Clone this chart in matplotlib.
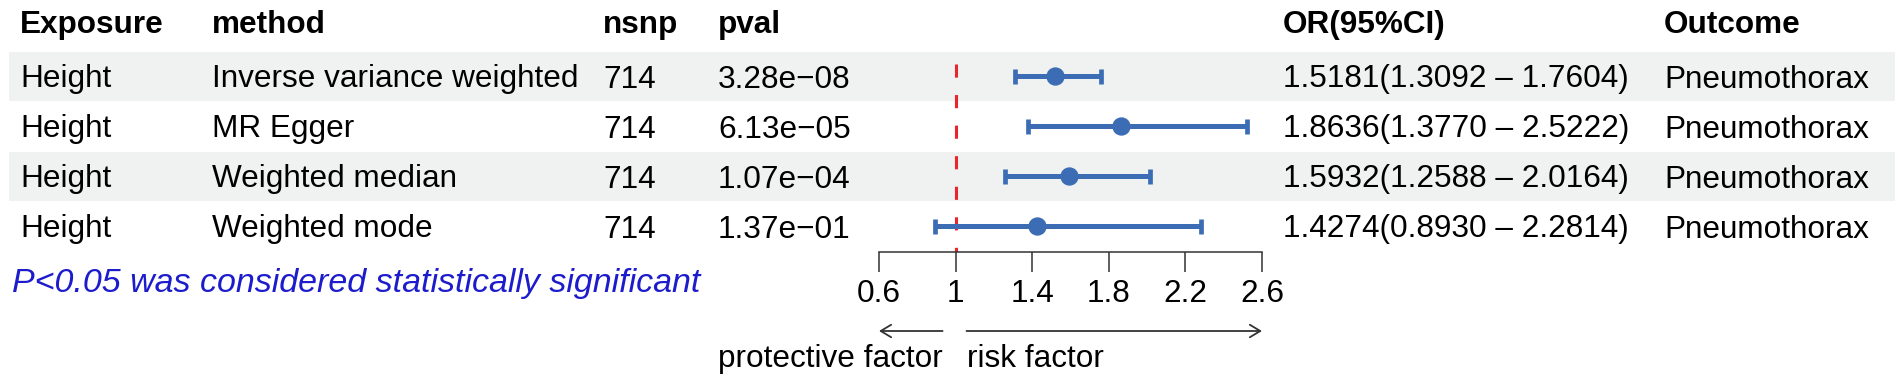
import matplotlib
matplotlib.use('Agg')
import matplotlib.pyplot as plt
from matplotlib.patches import Rectangle
from matplotlib.transforms import blended_transform_factory

plt.rcParams['font.family'] = ['Liberation Sans', 'DejaVu Sans']

# data
exposure = ['Height', 'Height', 'Height', 'Height']
methods = ['Inverse variance weighted', 'MR Egger', 'Weighted median', 'Weighted mode']
nsnp = [714, 714, 714, 714]
pvals = [3.28e-08, 6.13e-05, 1.07e-04, 1.37e-01]
or_vals = [1.5181, 1.8636, 1.5932, 1.4274]
ci_low = [1.3092, 1.3770, 1.2588, 0.8930]
ci_high = [1.7604, 2.5222, 2.0164, 2.2814]
outcome = ['Pneumothorax'] * 4
headers = ['Exposure', 'method', 'nsnp', 'pval', 'OR(95%CI)', 'Outcome']
xticks = [0.6, 1, 1.4, 1.8, 2.2, 2.6]
xticklabels = ['0.6', '1', '1.4', '1.8', '2.2', '2.6']

W, H = 1902, 386
fig = plt.figure(figsize=(W / 100, H / 100), dpi=100)
fig.patch.set_facecolor('white')

# page axes in pixel units for the table part
ax = fig.add_axes([0, 0, 1, 1])
ax.set_xlim(0, W)
ax.set_ylim(H, 0)
ax.axis('off')

fs = 22.7
col_x = [20, 212, 603, 718, 1283, 1664]
row_y0, row_h = 76, 50
band = '#eff2f1'

for i, h in enumerate(headers):
    ax.text(col_x[i], 33, h, fontsize=fs, fontweight='bold', va='baseline', ha='left')

for i in range(len(methods)):
    yc = row_y0 + row_h * i
    if i % 2 == 0:
        ax.add_patch(Rectangle((9, yc - 24), 1886, 49, color=band, lw=0, zorder=0))
    pv = f'{pvals[i]:.2e}'.replace('-', '\u2212')
    ortxt = f'{or_vals[i]:.4f}({ci_low[i]:.4f} \u2013 {ci_high[i]:.4f})'
    cells = [exposure[i], methods[i], str(nsnp[i]), pv, ortxt, outcome[i]]
    for j, c in enumerate(cells):
        ax.text(col_x[j], yc + 11.5, c, fontsize=fs, va='baseline', ha='left')

ax.text(12, 292, 'P<0.05 was considered statistically significant', fontsize=24.5,
        style='italic', color='#1c1ccc', va='baseline', ha='left')

# forest panel
x0, x1 = 879, 1262
fax = fig.add_axes([x0 / W, 1 - 252 / H, (x1 - x0) / W, 200 / H])
fax.patch.set_alpha(0)
fax.set_xlim(0.6, 2.6)
fax.set_ylim(3.52, -0.48)
for s in ['top', 'left', 'right']:
    fax.spines[s].set_visible(False)
fax.spines['bottom'].set_linewidth(1.1)
fax.spines['bottom'].set_color('#333333')
fax.set_yticks([])
fax.set_xticks(xticks)
fax.set_xticklabels(xticklabels)
fax.tick_params(axis='x', direction='out', length=14.4, width=1.1, color='#333333',
                labelsize=fs, pad=5)

fax.vlines(1, -0.25, 3.52, color='#e8262b', lw=2.2, linestyles=(0, (4.3, 5.7)), zorder=1)

rows = list(range(len(or_vals)))
err = [[o - l for o, l in zip(or_vals, ci_low)], [h - o for o, h in zip(or_vals, ci_high)]]
fax.errorbar(or_vals, rows, xerr=err, fmt='o', color='#3b6cb4', ms=12.2, elinewidth=3.6,
             capsize=5.4, capthick=3.4, zorder=3, clip_on=False)

# arrows under the axis
tr = blended_transform_factory(fax.transData, ax.transData)
arrow_kw = dict(arrowstyle='->,head_length=0.75,head_width=0.45', lw=1.3, color='#333333',
                shrinkA=0, shrinkB=0)
ax.annotate('', xy=(0.6, 331), xytext=(0.932, 331), xycoords=tr, textcoords=tr,
            arrowprops=arrow_kw)
ax.annotate('', xy=(2.6, 331), xytext=(1.057, 331), xycoords=tr, textcoords=tr,
            arrowprops=arrow_kw)
ax.text(0.932, 367, 'protective factor', transform=tr, fontsize=fs, ha='right', va='baseline')
ax.text(1.057, 367, 'risk factor', transform=tr, fontsize=fs, ha='left', va='baseline')

fig.savefig('out.png', dpi=100, facecolor='white')
